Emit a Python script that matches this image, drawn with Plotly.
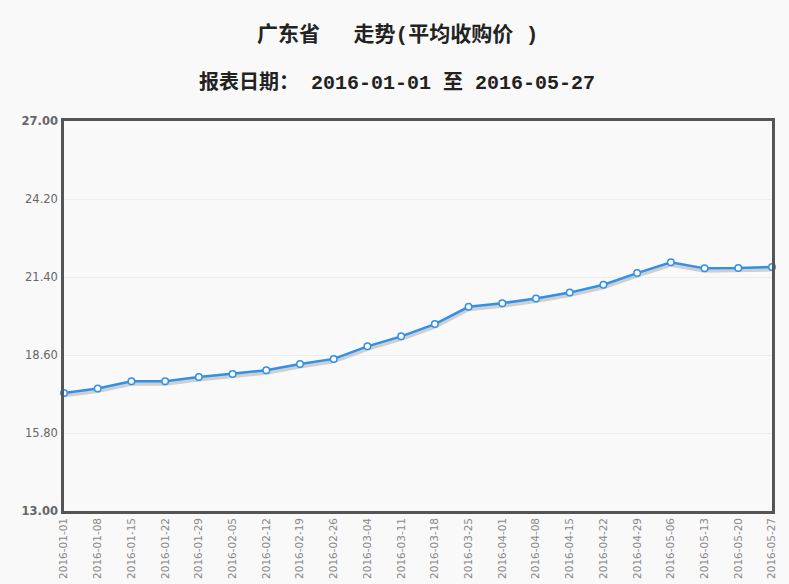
import plotly.graph_objects as go

dates = ["2016-01-01", "2016-01-08", "2016-01-15", "2016-01-22", "2016-01-29",
         "2016-02-05", "2016-02-12", "2016-02-19", "2016-02-26", "2016-03-04",
         "2016-03-11", "2016-03-18", "2016-03-25", "2016-04-01", "2016-04-08",
         "2016-04-15", "2016-04-22", "2016-04-29", "2016-05-06", "2016-05-13",
         "2016-05-20", "2016-05-27"]
prices = [17.24, 17.40, 17.66, 17.66, 17.81, 17.92, 18.05, 18.28, 18.46, 18.91,
          19.27, 19.71, 20.33, 20.46, 20.63, 20.84, 21.12, 21.54, 21.93, 21.71,
          21.72, 21.76]
ytick_vals = [13.00, 15.80, 18.60, 21.40, 24.20, 27.00]
ytick_text = ["<b>13.00</b>", "15.80", "18.60", "21.40", "24.20", "<b>27.00</b>"]

title1 = "广东省　 走势(平均收购价 )"
title2 = "报表日期： 2016-01-01 至 2016-05-27"

shadow = [v - 0.09 for v in prices]

L, R, T, B = 64, 17, 121, 73
W, H = 789, 584
plot_w = W - L - R
plot_h = H - T - B
title_font = "Liberation Mono, Noto Sans CJK SC"

fig = go.Figure()
fig.add_trace(go.Scatter(x=dates, y=shadow, mode="lines",
                         line=dict(color="rgba(110,110,110,0.3)", width=4),
                         hoverinfo="skip", showlegend=False))
fig.add_trace(go.Scatter(x=dates, y=prices, mode="lines+markers",
                         line=dict(color="#3190e8", width=2.5),
                         marker=dict(size=6.5, color="white",
                                     line=dict(color="#3190e8", width=1.5)),
                         showlegend=False, cliponaxis=False))

fig.update_layout(
    width=W, height=H,
    margin=dict(l=L, r=R, t=T, b=B, autoexpand=False),
    paper_bgcolor="#f9f9f9", plot_bgcolor="#f9f9f9",
    font=dict(family="DejaVu Sans", color="#333"),
    annotations=[
        dict(text="<b>" + title1 + "</b>", x=(397 - L) / plot_w, y=1 + (T - 35) / plot_h,
             xref="paper", yref="paper", xanchor="center", yanchor="middle",
             showarrow=False, font=dict(size=21, color="#222", family=title_font)),
        dict(text="<b>" + title2 + "</b>", x=(397 - L) / plot_w, y=1 + (T - 83) / plot_h,
             xref="paper", yref="paper", xanchor="center", yanchor="middle",
             showarrow=False, font=dict(size=20, color="#222", family=title_font)),
    ],
)

fig.update_xaxes(type="category", range=[0, len(dates) - 1], automargin=False,
                 tickangle=-90, tickfont=dict(size=10.5, color="#888",
                                              family="DejaVu Sans"),
                 showgrid=False, showline=True, linecolor="#555", linewidth=2.5,
                 mirror=True, ticks="", zeroline=False)
fig.update_yaxes(range=[13, 27], tickvals=ytick_vals, ticktext=ytick_text,
                 automargin=False,
                 tickfont=dict(size=11.5, color="#666", family="DejaVu Sans"),
                 showgrid=True, gridcolor="#ededed", gridwidth=1,
                 showline=True, linecolor="#555", linewidth=2.5, mirror=True,
                 ticks="", zeroline=False, ticklabelstandoff=1)

fig.write_html("out.html", config={"displayModeBar": False},
               post_script="document.body.style.margin='0';document.body.style.background='#f9f9f9';")
